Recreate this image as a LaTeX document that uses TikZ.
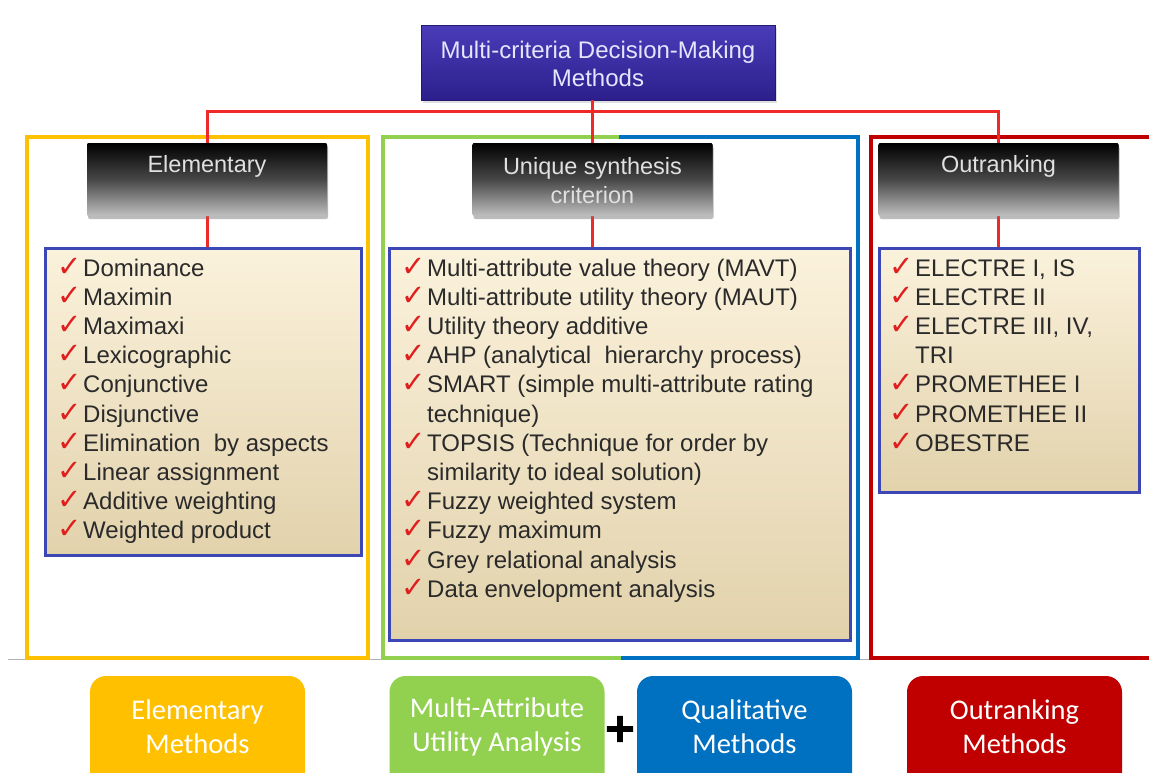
\documentclass[tikz,border=0pt]{standalone}
\usepackage{fontspec}
\setmainfont{Liberation Sans}
\newfontfamily\carl{Carlito}
\newfontfamily\djv{DejaVu Sans}
\newfontfamily\djvplus{DejaVu Sans Bold}[FakeBold=2.5]
\usetikzlibrary{shadows}
\definecolor{cYel}{HTML}{FFC000}
\definecolor{cGrn}{HTML}{92D050}
\definecolor{cBlu}{HTML}{0070C0}
\definecolor{cRed}{HTML}{C00000}
\definecolor{cConn}{HTML}{F02828}
\definecolor{cTitTop}{HTML}{4A3CB8}
\definecolor{cTitBot}{HTML}{2C1F8C}
\definecolor{cListBrd}{HTML}{3C46B4}
\definecolor{cBeigeTop}{HTML}{FBF2DC}
\definecolor{cBeigeBot}{HTML}{E2D2AC}
\definecolor{cCheck}{HTML}{E01E1E}
\definecolor{cTxt}{HTML}{2A2A2A}
\tikzset{
  frame/.style={line width=4pt},
  conn/.style={draw=cConn, line width=3pt},
  title/.style={minimum width=354pt, minimum height=75pt, inner sep=0pt,
    top color=cTitTop, bottom color=cTitBot, draw=cTitBot!80!black, line width=0.8pt,
    drop shadow={opacity=0.25, shadow xshift=2pt, shadow yshift=-3pt}},
  ttext/.style={text=white!90!blue, align=center, font=\fontsize{24}{28}\selectfont},
  bbox/.style={minimum width=240pt, minimum height=73pt, inner sep=0pt, rounded corners=2pt,
    top color=black, bottom color=black!25, middle color=black!72,
    drop shadow={opacity=0.3, shadow xshift=1pt, shadow yshift=-3pt}},
  btext/.style={text=white!88!black, align=center, font=\fontsize{23.5}{29}\selectfont},
  lbox/.style={inner sep=0pt, draw=cListBrd, line width=3pt, top color=cBeigeTop, bottom color=cBeigeBot},
  item/.style={anchor=base west, inner sep=0pt, text=cTxt, font=\fontsize{24}{27}\selectfont},
  ck/.style={anchor=base east, inner sep=0pt, text=cCheck, font=\djv\fontsize{29}{30}\selectfont},
  mbox/.style={minimum width=215pt, minimum height=130pt, rounded corners=16pt, inner sep=0pt},
  mtext/.style={text=white, align=center, font=\carl\fontsize{28.5}{34}\selectfont},
}
\begin{document}
\begin{tikzpicture}[x=1pt,y=-1pt]
\useasboundingbox (0,0) rectangle (1149,772);
\fill[white] (0,0) rectangle (1149,772);

% thin gray base line
\coordinate (gl) at (8,659);
\coordinate (gr) at (1149,659);
\draw[gray!60, line width=1pt] (gl) -- (gr);

% frames
\coordinate (fy1) at (27,137);
\coordinate (fy2) at (368,658);
\draw[frame, cYel] (fy1) rectangle (fy2);
\coordinate (fgb) at (619,137);
\coordinate (fgbb) at (621,658);
\draw[frame, cGrn] (fgb) -- (383,137) -- (383,658) -- (fgbb);
\draw[frame, cBlu] (fgb) -- (858,137) -- (858,658) -- (fgbb);
\draw[frame, cRed] (1160,137) -- (871,137) -- (871,658) -- (1160,658);

% title
\node[title] (t) at (598,62.5) {};
\node[ttext] (tT) at (598,64) {Multi-criteria Decision-Making\\Methods};

% bus
\coordinate (bus) at (0,111);

% black boxes
\node[bbox] (e) at (207,179.5) {};
\node[bbox] (u) at (592.5,179.5) {};
\node[bbox] (o) at (998.5,179.5) {};

% list boxes
\node[lbox, minimum width=316pt, minimum height=307pt] (el) at (203,401.5) {};
\node[lbox, minimum width=461pt, minimum height=392pt] (ul) at (619.5,444) {};
\node[lbox, minimum width=260pt, minimum height=244pt] (ol) at (1009,370) {};

% connectors
\draw[conn] (e.north) -- (e.north |- bus) -- (o.north |- bus) -- (o.north);
\draw[conn] (t.south -| u.north) -- (u.north);
\draw[conn] (e.south) -- (e.south |- el.north);
\draw[conn] (u.south) -- (u.south |- ul.north);
\draw[conn] (o.south) -- (o.south |- ol.north);

% redraw box tops over connectors
\node[bbox] (e2) at (e) {};
\node[bbox] (u2) at (u) {};
\node[bbox] (o2) at (o) {};
\node[btext] (eT) at (207,166) {Elementary};
\node[btext] (uT) at (592.5,181) {Unique synthesis\\criterion};
\node[btext] (oT) at (998.5,166) {Outranking};

% items
\foreach \c/\t [count=\i] in {1/Dominance,1/Maximin,1/Maximaxi,1/Lexicographic,1/Conjunctive,1/Disjunctive,1/{Elimination\ \ by aspects},1/Linear assignment,1/Additive weighting,1/Weighted product}{
  \node[item] (ei\i) at (83,{276+29.2*(\i-1)}) {\t};
  \ifnum\c=1 \node[ck] (ec\i) at (82,{276+29.2*(\i-1)}) {✓};\fi
}
\foreach \c/\t [count=\i] in {1/Multi-attribute value theory (MAVT),1/Multi-attribute utility theory (MAUT),1/Utility theory additive,1/{AHP (analytical\ \ hierarchy process)},1/SMART (simple multi-attribute rating,0/technique),1/TOPSIS (Technique for order by,0/similarity to ideal solution),1/Fuzzy weighted system,1/Fuzzy maximum,1/Grey relational analysis,1/Data envelopment analysis}{
  \node[item] (ui\i) at (427,{276+29.2*(\i-1)}) {\t};
  \ifnum\c=1 \node[ck] (uc\i) at (426,{276+29.2*(\i-1)}) {✓};\fi
}
\foreach \c/\t [count=\i] in {1/{ELECTRE I, IS},1/ELECTRE II,1/{ELECTRE III, IV,},0/TRI,1/PROMETHEE I,1/PROMETHEE II,1/OBESTRE}{
  \node[item] (oi\i) at (915,{276+29.2*(\i-1)}) {\t};
  \ifnum\c=1 \node[ck] (oc\i) at (914,{276+29.2*(\i-1)}) {✓};\fi
}

% bottom method boxes
\node[mbox, fill=cYel] (b1) at (197.5,741) {};
\node[mbox, fill=cGrn] (b2) at (497,741) {};
\node[mbox, fill=cBlu] (b3) at (744.5,741) {};
\node[mbox, fill=cRed] (b4) at (1014.5,741) {};
\node[mtext] (b1T) at (197.5,727) {Elementary\\Methods};
\node[mtext] (b2T) at (497,727) {Multi-Attribute\\Utility Analysis};
\node[mtext] (b3T) at (744.5,727) {Qualitative\\Methods};
\node[mtext] (b4T) at (1014.5,727) {Outranking\\Methods};
\node[inner sep=0pt, font=\djvplus\fontsize{40}{40}\selectfont] (plus) at (620,729) {+};
\end{tikzpicture}
\end{document}
